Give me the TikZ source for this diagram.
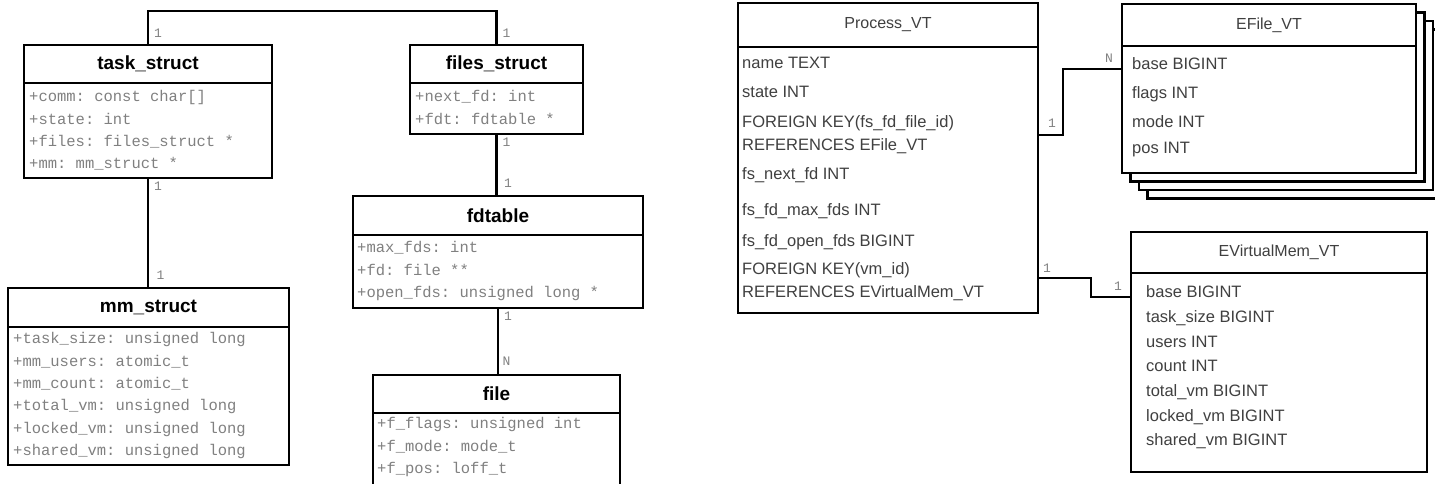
\documentclass[tikz,border=0pt]{standalone}
\usepackage{fontspec}
\setmainfont{Liberation Sans}
\setmonofont{Liberation Mono}
\usetikzlibrary{positioning,calc,backgrounds}

\begin{document}
\begin{tikzpicture}[x=1pt, y=-1pt,
    box/.style = {draw, line width=2.7pt, fill=white, inner sep=0pt, outer sep=0pt, anchor=north west},
    cname/.style = {box, font={\fontsize{19}{22}\selectfont\bfseries}},
    tname/.style = {box, text=black!75, font={\fontsize{16}{19}\selectfont}},
    attr/.style = {inner sep=0pt, text height=10pt, text depth=3pt, text=black!50, font={\ttfamily\fontsize{15.5}{18}\selectfont}},
    col/.style = {inner sep=0pt, text height=12pt, text depth=4pt, text=black!75, font={\fontsize{16.5}{19}\selectfont}},
    mult/.style = {inner sep=0pt, text=black!50, font={\ttfamily\fontsize{13}{15}\selectfont}},
    link/.style = {line width=2.2pt}]
    \useasboundingbox (0,0) rectangle (1435,483);

    % kernel structs
    \node[cname, minimum width=248, minimum height=38] (task) at (24,45) {task\_struct};
    \node[box, minimum width=248, minimum height=95] (taskb) [below=0pt of task] {};
    \node[attr] (ts1) [below right=8.5pt and 5pt of taskb.north west] {+comm: const char[]};
    \node[attr] (ts2) [below right=9pt and 0pt of ts1.south west] {+state: int};
    \node[attr] (ts3) [below right=9pt and 0pt of ts2.south west] {+files: files\_struct *};
    \node[attr] (ts4) [below right=9pt and 0pt of ts3.south west] {+mm: mm\_struct *};

    \node[cname, minimum width=173, minimum height=38] (files) at (410,45) {files\_struct};
    \node[box, minimum width=173, minimum height=51] (filesb) [below=0pt of files] {};
    \node[attr] (fs1) [below right=8.5pt and 5pt of filesb.north west] {+next\_fd: int};
    \node[attr] (fs2) [below right=9pt and 0pt of fs1.south west] {+fdt: fdtable *};

    \node[cname, minimum width=290, minimum height=39] (fdt) at (353,196) {fdtable};
    \node[box, minimum width=290, minimum height=73] (fdtb) [below=0pt of fdt] {};
    \node[attr] (fd1) [below right=7.5pt and 4pt of fdtb.north west] {+max\_fds: int};
    \node[attr] (fd2) [below right=9pt and 0pt of fd1.south west] {+fd: file **};
    \node[attr] (fd3) [below right=9pt and 0pt of fd2.south west] {+open\_fds: unsigned long *};

    \node[cname, minimum width=247, minimum height=38] (file) at (373,375) {file};
    \node[box, minimum width=247, minimum height=90] (fileb) [below=0pt of file] {};
    \node[attr] (fi1) [below right=5.5pt and 4pt of fileb.north west] {+f\_flags: unsigned int};
    \node[attr] (fi2) [below right=9pt and 0pt of fi1.south west] {+f\_mode: mode\_t};
    \node[attr] (fi3) [below right=9pt and 0pt of fi2.south west] {+f\_pos: loff\_t};

    \node[cname, minimum width=281, minimum height=39] (mm) at (8,288) {mm\_struct};
    \node[box, minimum width=281, minimum height=138] (mmb) [below=0pt of mm] {};
    \node[attr] (mm1) [below right=6.5pt and 5pt of mmb.north west] {+task\_size: unsigned long};
    \node[attr] (mm2) [below right=9pt and 0pt of mm1.south west] {+mm\_users: atomic\_t};
    \node[attr] (mm3) [below right=9pt and 0pt of mm2.south west] {+mm\_count: atomic\_t};
    \node[attr] (mm4) [below right=9pt and 0pt of mm3.south west] {+total\_vm: unsigned long};
    \node[attr] (mm5) [below right=9pt and 0pt of mm4.south west] {+locked\_vm: unsigned long};
    \node[attr] (mm6) [below right=9pt and 0pt of mm5.south west] {+shared\_vm: unsigned long};

    \draw[link] (task.north) -- ++(0,-34) -| (files.north);
    \node[mult] (m1) [above right=7pt and 6pt of task.north] {1};
    \node[mult] (m2) [above right=7pt and 6pt of files.north] {1};
    \draw[link] (taskb.south) -- (taskb.south |- mm.north);
    \node[mult] (m3) [below right=4pt and 6pt of taskb.south] {1};
    \node[mult] (m4) [above right=8pt and 8pt of mm.north] {1};
    \draw[link] (filesb.south) -- (filesb.south |- fdt.north);
    \node[mult] (m5) [below right=4pt and 6pt of filesb.south] {1};
    \node[mult] (m6) [above right=8pt and 6pt of fdt.north] {1};
    \draw[link] (fdtb.south) -- (fdtb.south |- file.north);
    \node[mult] (m7) [below right=4pt and 6pt of fdtb.south] {1};
    \node[mult] (m8) [above right=9pt and 6pt of file.north] {N};

    % virtual tables
    \node[tname, minimum width=300, minimum height=44] (proc) at (738,3) {Process\_VT};
    \node[box, minimum width=300, minimum height=266] (procb) [below=0pt of proc] {};
    \node[col] (p1) [below right=9pt and 4pt of procb.north west] {name TEXT};
    \node[col] (p2) [below right=13pt and 0pt of p1.south west] {state INT};
    \node[col] (pk1) [below right=13pt and 0pt of p2.south west] {FOREIGN KEY(fs\_fd\_file\_id)};
    \node[col] (pr1) [below right=7pt and 0pt of pk1.south west] {REFERENCES EFile\_VT};
    \node[col] (p3) [below right=13pt and 0pt of pr1.south west] {fs\_next\_fd INT};
    \node[col] (p4) [below right=19pt and 0pt of p3.south west] {fs\_fd\_max\_fds INT};
    \node[col] (p5) [below right=15pt and 0pt of p4.south west] {fs\_fd\_open\_fds BIGINT};
    \node[col] (pk2) [below right=11pt and 0pt of p5.south west] {FOREIGN KEY(vm\_id)};
    \node[col] (pr2) [below right=7pt and 0pt of pk2.south west] {REFERENCES EVirtualMem\_VT};

    \node[tname, minimum width=294, minimum height=42] (efile) at (1122,4) {EFile\_VT};
    \node[box, minimum width=294, minimum height=127] (efileb) [below=0pt of efile] {};
    \node[col] (ef1) [below right=11pt and 10pt of efileb.north west] {base BIGINT};
    \node[col] (ef2) [below right=13pt and 0pt of ef1.south west] {flags INT};
    \node[col] (ef3) [below right=12pt and 0pt of ef2.south west] {mode INT};
    \node[col] (ef4) [below right=10pt and 0pt of ef3.south west] {pos INT};
    \begin{scope}[on background layer]
        \draw[line width=2.7pt, fill=white] ([xshift=25.5pt, yshift=-25.5pt]efile.north west) rectangle ([xshift=25.5pt, yshift=-25.5pt]efileb.south east);
        \draw[line width=2.7pt, fill=white] ([xshift=17pt, yshift=-17pt]efile.north west) rectangle ([xshift=17pt, yshift=-17pt]efileb.south east);
        \draw[line width=2.7pt, fill=white] ([xshift=8.5pt, yshift=-8.5pt]efile.north west) rectangle ([xshift=8.5pt, yshift=-8.5pt]efileb.south east);
    \end{scope}

    \node[tname, minimum width=296, minimum height=41] (evm) at (1131,232) {EVirtualMem\_VT};
    \node[box, minimum width=296, minimum height=199] (evmb) [below=0pt of evm] {};
    \node[col] (ev1) [below right=12pt and 15pt of evmb.north west] {base BIGINT};
    \node[col] (ev2) [below right=9pt and 0pt of ev1.south west] {task\_size BIGINT};
    \node[col] (ev3) [below right=8pt and 0pt of ev2.south west] {users INT};
    \node[col] (ev4) [below right=8pt and 0pt of ev3.south west] {count INT};
    \node[col] (ev5) [below right=9pt and 0pt of ev4.south west] {total\_vm BIGINT};
    \node[col] (ev6) [below right=8pt and 0pt of ev5.south west] {locked\_vm BIGINT};
    \node[col] (ev7) [below right=8pt and 0pt of ev6.south west] {shared\_vm BIGINT};

    \coordinate (pout1) at ($(pk1.south -| procb.east)!.5!(pr1.north -| procb.east)$);
    \coordinate (efin) at (efileb.west |- ef1.base);
    \draw[link] (pout1) -- ++(25,0) |- (efin);
    \node[mult] (m9) [above right=7pt and 10pt of pout1] {1};
    \node[mult] (m10) [above left=7pt and 9pt of efin] {N};
    \coordinate (pout2) at (procb.east |- pk2.south);
    \coordinate (evin) at (evmb.west |- ev1.base);
    \draw[link] (pout2) -- ++(53,0) |- (evin);
    \node[mult] (m11) [above right=6pt and 5pt of pout2] {1};
    \node[mult] (m12) [above left=7pt and 9pt of evin] {1};
\end{tikzpicture}
\end{document}
